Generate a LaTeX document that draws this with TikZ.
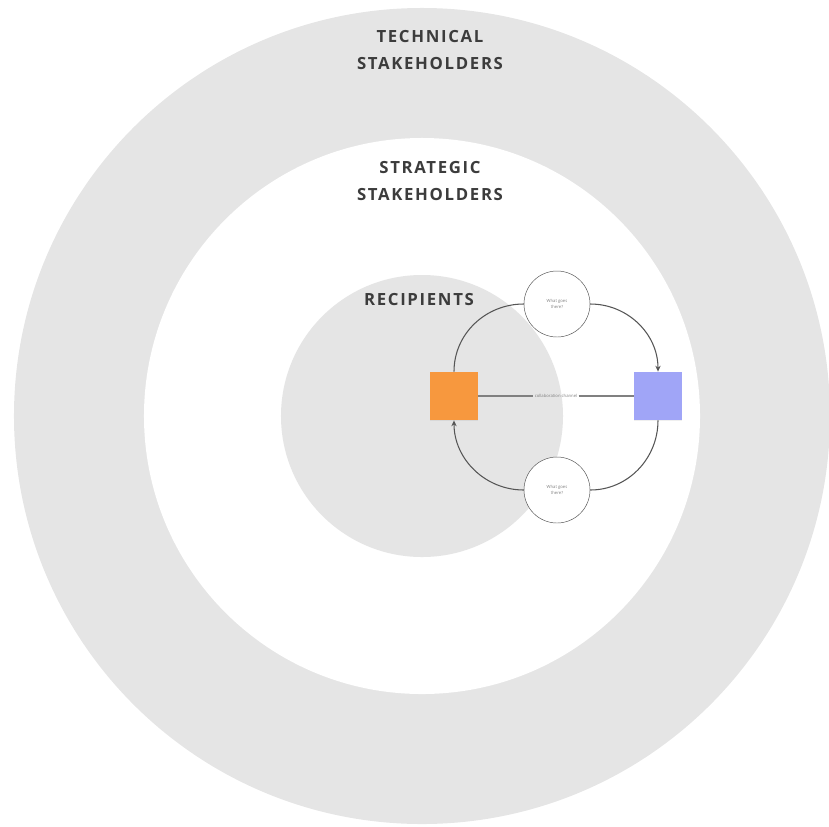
\documentclass[tikz,border=0pt]{standalone}
\usepackage{fontspec}
\setmainfont{Open Sans}
\usetikzlibrary{arrows.meta, positioning, shadows}

\definecolor{ringgray}{HTML}{E5E5E5}
\definecolor{labelgray}{HTML}{3C3C3C}
\definecolor{noteorange}{HTML}{F7983E}
\definecolor{noteblue}{HTML}{A0A5F7}
\definecolor{linegray}{HTML}{555555}

\begin{document}
\begin{tikzpicture}[
      x=0.03cm, y=-0.03cm,
      ring/.style={circle, inner sep=0pt, fill=#1},
      ringlabel/.style={align=center, text=labelgray,
        font=\bfseries\fontsize{14.3}{23}\selectfont\addfontfeatures{LetterSpace=10}},
      note/.style={rectangle, inner sep=0pt, minimum size=1.45cm, fill=#1,
        drop shadow={opacity=0.12, shadow xshift=0pt, shadow yshift=-1pt}},
      ask/.style={circle, draw=linegray, thin, fill=white, minimum size=1.98cm, inner sep=0pt,
        align=center, text=gray, font=\fontsize{3.6}{4.5}\selectfont},
      flow/.style={draw=linegray, line width=0.9pt},
      arrow/.style={flow, -{Stealth[length=5pt, width=4.5pt]}}
    ]
    \useasboundingbox (0,0) rectangle (829,826);

    % rings
    \node[ring=ringgray, minimum size=24.48cm] (technical) at (422,416) {};
    \node[ring=white, minimum size=16.68cm] (strategic) at (422,416) {};
    \node[ring=ringgray, minimum size=8.46cm] (recipients) at (422,416) {};

    \node[ringlabel] (techlabel) at (430,50) {TECHNICAL\\STAKEHOLDERS};
    \node[ringlabel] (stratlabel) at (430,181) {STRATEGIC\\STAKEHOLDERS};
    \node[ringlabel] (reclabel) at (419,300) {RECIPIENTS};

    % sticky notes
    \node[note=noteorange] (orange) at (454,396) {};
    \node[note=noteblue] (blue) at (658,396) {};

    \node[ask] (asktop) at (557,304) {What goes\\there?};
    \node[ask] (askbot) at (557,490) {What goes\\there?};

    % connectors
    \draw[flow] (orange.north) to[out=90, in=180] (asktop.west);
    \draw[arrow] (asktop.east) to[out=0, in=90] (blue.north);
    \draw[flow] (blue.south) to[out=-90, in=0] (askbot.east);
    \draw[arrow] (askbot.west) to[out=180, in=-90] (orange.south);

    \node[text=gray, font=\fontsize{3.6}{4.5}\selectfont, inner sep=1pt] (chan) at (556,396) {collaboration channel};
    \draw[flow, draw=gray, line width=1.3pt] (orange.east) -- (chan.west) (chan.east) -- (blue.west);
  \end{tikzpicture}
\end{document}
